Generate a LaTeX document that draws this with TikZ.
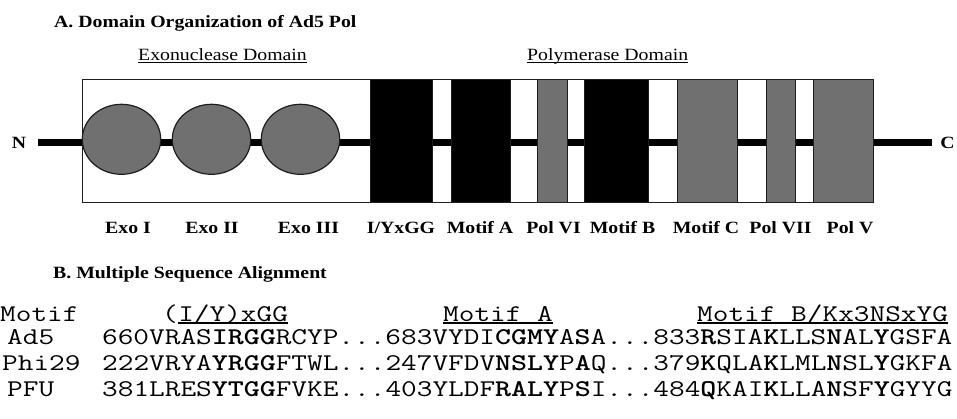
\documentclass[tikz,border=0pt]{standalone}
\usepackage{fontspec}
\usepackage{graphicx}
\setmainfont{Liberation Serif}[FakeStretch=1.15]
\usetikzlibrary{shapes.geometric}
\definecolor{blkgray}{RGB}{112,112,112}
\definecolor{edge}{RGB}{30,30,30}
\newcommand{\mtx}[1]{\scalebox{1.268}[1]{#1}}
\tikzset{
  serif/.style={inner sep=0pt, anchor=base west, font=\fontsize{17.2}{20}\selectfont},
  serifb/.style={inner sep=0pt, anchor=base, font=\fontsize{17.2}{20}\selectfont\bfseries},
  mono/.style={inner sep=0pt, anchor=base west, font=\fontsize{24}{28}\selectfont\ttfamily},
  ulin/.style={line width=1.1pt},
  darkblk/.style={fill=black, draw=edge, line width=1pt},
  grayblk/.style={fill=blkgray, draw=edge, line width=1pt},
  exo/.style={ellipse, fill=blkgray, draw=edge, line width=1.2pt, minimum width=78.4pt, minimum height=70pt, inner sep=0pt},
}
\begin{document}
\begin{tikzpicture}[x=1pt,y=-1pt]
\useasboundingbox (0,0) rectangle (957,418);
% Part A
\node[serif, font=\fontsize{17.2}{20}\selectfont\bfseries] (tA) at (54,27) {A. Domain Organization of Ad5 Pol};
\node[serif] (exd) at (138,60) {Exonuclease Domain};
\draw[ulin] ([yshift=-2.2pt]exd.base west) -- ([yshift=-2.2pt]exd.base east);
\node[serif] (pold) at (527,60) {Polymerase Domain};
\draw[ulin] ([yshift=-2.2pt]pold.base west) -- ([yshift=-2.2pt]pold.base east);
% box
\draw[fill=white, draw=edge, line width=1pt] (82,79) rectangle (873,202);
% backbone
\coordinate (nend) at (38,142.5);
\coordinate (cend) at (932,142.5);
\draw[line width=7pt] (nend) -- (cend);
\node[serifb] (N) at (19,148.5) {N};
\node[serifb] (C) at (947.5,148.8) {C};
% exo domains
\node[exo] (e1) at (121.5,139.3) {};
\node[exo] (e2) at (211.5,139.3) {};
\node[exo] (e3) at (300.5,139.3) {};
% polymerase blocks
\draw[darkblk] (370,79) rectangle (432,202);
\draw[darkblk] (451,79) rectangle (510,202);
\draw[grayblk] (537,79) rectangle (567,202);
\draw[darkblk] (584,79) rectangle (648,202);
\draw[grayblk] (677,79) rectangle (737,202);
\draw[grayblk] (766,79) rectangle (795,202);
\draw[grayblk] (813,79) rectangle (873,202);
% labels
\node[serifb] (l1) at (128,233) {Exo I};
\node[serifb] (l2) at (212,233) {Exo II};
\node[serifb] (l3) at (308.5,233) {Exo III};
\node[serifb] (l4) at (401,233) {I/YxGG};
\node[serifb] (l5) at (480,233) {Motif A};
\node[serifb] (l6) at (553.5,233) {Pol VI};
\node[serifb] (l7) at (622.5,233) {Motif B};
\node[serifb] (l8) at (706,233) {Motif C};
\node[serifb] (l9) at (780.5,233) {Pol VII};
\node[serifb] (l10) at (850,233) {Pol V};
% Part B
\node[serif, font=\fontsize{17.2}{20}\selectfont\bfseries] (tB) at (53,278) {B. Multiple Sequence Alignment};
\node[mono] (hm) at (0,321) {\mtx{Motif}};
\node[mono] (hp) at (162,321) {\mtx{(}};
\node[mono, anchor=base west] (h1) at (hp.base east) {\mtx{I/Y)xGG}};
\draw[ulin] ([yshift=-2pt]h1.base west) -- ([yshift=-2pt]h1.base east);
\node[mono] (h2) at (443,321) {\mtx{Motif A}};
\draw[ulin] ([yshift=-2pt]h2.base west) -- ([yshift=-2pt]h2.base east);
\node[mono] (h3) at (697,321) {\mtx{Motif B/Kx3NSxYG}};
\draw[ulin] ([yshift=-2pt]h3.base west) -- ([yshift=-2pt]h3.base east);
\node[mono] (n1) at (7,344) {\mtx{Ad5}};
\node[mono] (s1) at (102,344) {\mtx{660VRAS\textbf{IRGG}RCYP...683VYDI\textbf{CGMY}A\textbf{S}A...833\textbf{R}SIA\textbf{K}LLS\textbf{N}AL\textbf{Y}GSFA}};
\node[mono] (n2) at (2,370) {\mtx{Phi29}};
\node[mono] (s2) at (102,370) {\mtx{222VRYA\textbf{YRGG}FTWL...247VFDV\textbf{NSLY}P\textbf{A}Q...379\textbf{K}QLA\textbf{K}LML\textbf{N}SL\textbf{Y}GKFA}};
\node[mono] (n3) at (7,396) {\mtx{PFU}};
\node[mono] (s3) at (102,396) {\mtx{381LRES\textbf{YTGG}FVKE...403YLDF\textbf{RALY}P\textbf{S}I...484\textbf{Q}KAI\textbf{K}LLA\textbf{N}SF\textbf{Y}GYYG}};
\end{tikzpicture}
\end{document}
